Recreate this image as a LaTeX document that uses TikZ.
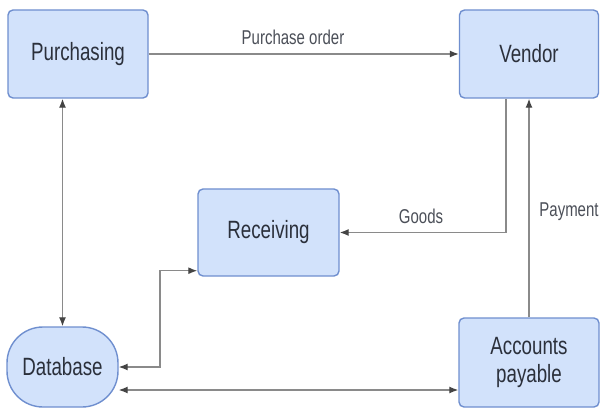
\documentclass[tikz,border=0pt]{standalone}
\usepackage{fontspec}
\setmainfont{Liberation Sans}[FakeStretch=0.75]
\usetikzlibrary{arrows.meta}
\definecolor{boxfill}{HTML}{D2E2FB}
\definecolor{boxdraw}{HTML}{6F8FCF}
\definecolor{txt}{HTML}{2B303B}
\definecolor{conn}{HTML}{8A8A8A}
\definecolor{tipc}{HTML}{444444}
\tikzset{
  procbox/.style={draw=boxdraw, fill=boxfill, line width=1.4pt, rounded corners=5pt,
    text=txt, font=\fontsize{25}{28}\selectfont, align=center, inner sep=0pt},
  dbbox/.style={procbox, rounded corners=36pt},
  conline/.style={draw=conn, line width=1.3pt,
    arrows={-Latex[length=9pt,width=7pt,color=tipc]}},
  biline/.style={conline, arrows={Latex[length=9pt,width=7pt,color=tipc]-Latex[length=9pt,width=7pt,color=tipc]}},
  lbl/.style={text=txt!85, font=\fontsize{20}{24}\selectfont, inner sep=0pt}
}
\begin{document}
\begin{tikzpicture}[x=1pt,y=-1pt]
\useasboundingbox (0,0) rectangle (600,409);
\fill[white] (0,0) rectangle (600,409);
\node[procbox, minimum width=140pt, minimum height=88pt] (pur) at (78,54) {Purchasing};
\node[procbox, minimum width=139pt, minimum height=88pt] (ven) at (529,54) {Vendor};
\node[procbox, minimum width=141pt, minimum height=87pt] (rec) at (268.5,232.5) {Receiving};
\node[dbbox, minimum width=111pt, minimum height=80pt] (db) at (62.5,367) {Database};
\node[procbox, minimum width=140pt, minimum height=89pt] (ap) at (529,362.5) {Accounts\\payable};
\coordinate (ylow) at (0,390);
\coordinate (xturn) at (160,367);
% connectors
\draw[conline] (pur.east) -- (ven.west);
\draw[biline] (pur.south -| db.north) -- (db.north);
\draw[conline] ([xshift=-23pt]ven.south) |- (rec.east);
\draw[conline] (ap.north) -- (ven.south);
\draw[biline] ([yshift=6pt]rec.south west) -| (xturn) -- (db.east);
\draw[biline] (db.east |- ylow) -- (ap.west |- ylow);
% labels
\node[lbl] (lpo) at (293,37) {Purchase order};
\node[lbl] (lgo) at (421,216) {Goods};
\node[lbl] (lpa) at (569,212) {Payment};
\end{tikzpicture}
\end{document}
